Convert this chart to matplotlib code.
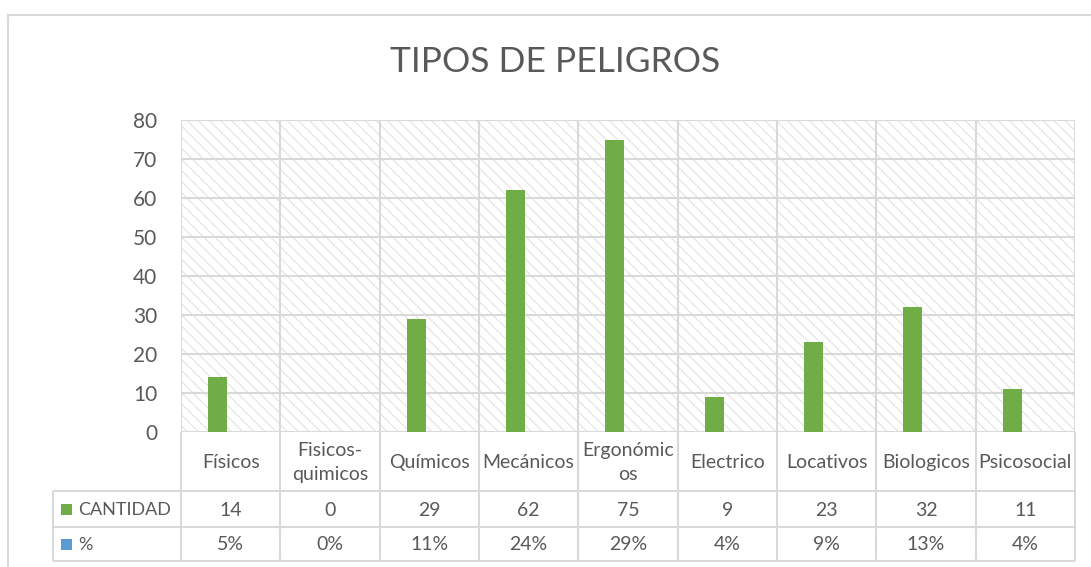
import matplotlib
matplotlib.use("Agg")
import matplotlib.pyplot as plt
from matplotlib.patches import Rectangle
from matplotlib.lines import Line2D

categories = ["Físicos", "Fisicos-\nquimicos", "Químicos", "Mecánicos", "Ergonómic\nos",
              "Electrico", "Locativos", "Biologicos", "Psicosocial"]
cantidad = [14, 0, 29, 62, 75, 9, 23, 32, 11]
porcentaje = ["5%", "0%", "11%", "24%", "29%", "4%", "9%", "13%", "4%"]
yticks = [0, 10, 20, 30, 40, 50, 60, 70, 80]
series_names = ["CANTIDAD", "%"]
title = "TIPOS DE PELIGROS"

GREEN = "#70ad47"
BLUE = "#5b9bd5"
GRID = "#d9d9d9"
TXT = "#595959"

plt.rcParams['font.family'] = ['Lato', 'DejaVu Sans']
plt.rcParams['hatch.linewidth'] = 0.8

W, H = 1091, 567
fig = plt.figure(figsize=(W / 100, H / 100), dpi=100)

def fx(px):
    return px / W

def fy(py):
    return 1 - py / H

L, R, T, B = 181, 1075, 120, 432
ax = fig.add_axes([fx(L), fy(B), fx(R) - fx(L), fy(T) - fy(B)])
n = len(categories)
ax.set_xlim(-0.5, n - 0.5)
ax.set_ylim(0, 80)

# hatched plot-area background
bg = Rectangle((0, 0), 1, 1, transform=ax.transAxes, facecolor="white",
               edgecolor="#e2e2e2", hatch="\\\\\\", linewidth=0, zorder=0)
ax.add_patch(bg)
ax.patch.set_visible(False)

# gridlines
for v in yticks:
    ax.axhline(v, color=GRID, lw=1.5, zorder=1)
for i in range(n + 1):
    ax.axvline(i - 0.5, color=GRID, lw=1.5, zorder=1)

xs = list(range(n))
bw = 0.19
ax.bar([x - 0.133 for x in xs], cantidad, width=bw, color=GREEN, zorder=3)

for s in ax.spines.values():
    s.set_visible(False)
ax.set_xticks([])
ax.set_yticks(yticks)
ax.set_yticklabels([str(v) for v in yticks], fontsize=15, color=TXT)
ax.tick_params(axis="y", length=0, pad=17)

# title
fig.text(fx(555), fy(62), title, ha="center", va="center", fontsize=25.5, color=TXT)

# figure border (cropped on right/bottom)
fig.add_artist(Line2D([fx(8), 1.0], [fy(15), fy(15)], color=GRID, lw=1.5))
fig.add_artist(Line2D([fx(8), fx(8)], [fy(15), 0.0], color=GRID, lw=1.5))

# data table
TL, TB = 53, 561
cw = (R - L) / n
tax = fig.add_axes([fx(TL), fy(TB), fx(R) - fx(TL), fy(B) - fy(TB)])
tax.set_xlim(TL, R)
tax.set_ylim(TB, B)
tax.axis("off")
r1, r2 = 491, 527
lkw = dict(color=GRID, lw=1.5, solid_capstyle="butt", clip_on=False)
for i in range(n + 1):
    xv = L + i * cw
    tax.plot([xv, xv], [B, TB], **lkw)
tax.plot([TL, TL], [r1, TB], **lkw)
for yv in (r1, r2, TB):
    tax.plot([TL, R], [yv, yv], **lkw)

for i, c in enumerate(categories):
    cx = L + (i + 0.5) * cw
    tax.text(cx, (B + r1) / 2 + 1, c, ha="center", va="center", fontsize=14,
             color=TXT, linespacing=1.5)
    tax.text(cx, (r1 + r2) / 2 + 1, str(cantidad[i]), ha="center", va="center",
             fontsize=14, color=TXT)
    tax.text(cx, (r2 + TB) / 2 + 1, porcentaje[i], ha="center", va="center",
             fontsize=14, color=TXT)

for (y0, y1), name, col in zip([(r1, r2), (r2, TB)], series_names, [GREEN, BLUE]):
    yc = (y0 + y1) / 2
    tax.add_patch(Rectangle((61, yc - 5.5), 11, 11, facecolor=col, edgecolor="none"))
    tax.text(78, yc + 1, name, ha="left", va="center", fontsize=13, color=TXT)

fig.savefig("out.png", dpi=100)
